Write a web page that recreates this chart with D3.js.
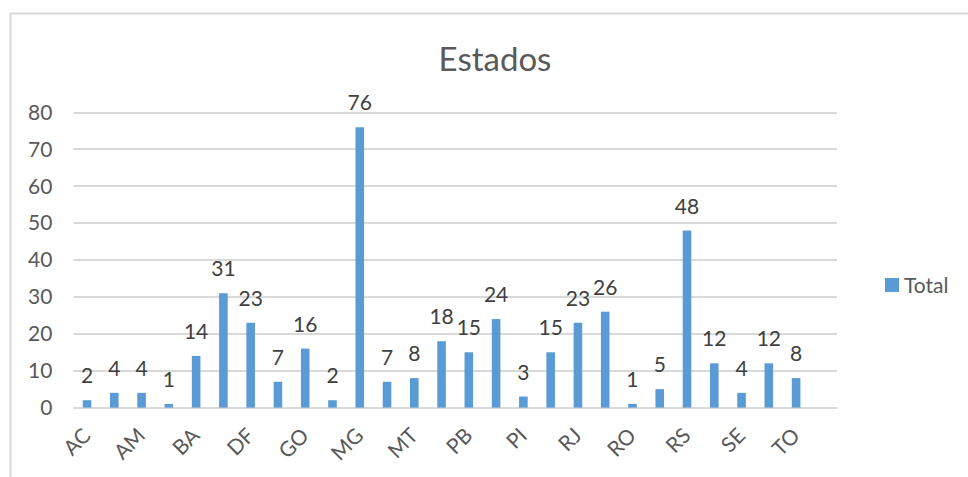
<!DOCTYPE html>
<html>
<head>
<meta charset="utf-8">
<script src="https://cdn.jsdelivr.net/npm/d3@7"></script>
<style>
  html, body { margin: 0; padding: 0; background: #fff; }
  svg { display: block; font-family: Lato, 'Open Sans', sans-serif; }
</style>
</head>
<body>
<div id="chart"></div>
<script>
// Estados — count per Brazilian state (last slot is an empty category)
const states = ['AC', 'AL', 'AM', 'AP', 'BA', 'CE', 'DF', 'ES', 'GO', 'MA', 'MG', 'MS', 'MT', 'PA',
  'PB', 'PE', 'PI', 'PR', 'RJ', 'RN', 'RO', 'RR', 'RS', 'SC', 'SE', 'SP', 'TO', ''];
const totals = [2, 4, 4, 1, 14, 31, 23, 7, 16, 2, 76, 7, 8, 18,
  15, 24, 3, 15, 23, 26, 1, 5, 48, 12, 4, 12, 8, null];
const yTicks = [0, 10, 20, 30, 40, 50, 60, 70, 80];
const shownLabels = states.filter((d, i) => i % 2 === 0 && d);

(function () {
  const W = 968, H = 477;
  const plot = { left: 73.4, right: 837, top: 112.5, bottom: 407.6 };
  const BAR = '#5B9BD5';
  const FS = '21px';

  const svg = d3.select('#chart').append('svg').attr('width', W).attr('height', H);

  // chart frame (only left and top edges are visible in the crop)
  svg.append('path').attr('d', `M10.5,${H} V13.5 H${W}`)
    .attr('fill', 'none').attr('stroke', '#d9d9d9').attr('stroke-width', 2);

  const x = d3.scaleBand().domain(states).range([plot.left, plot.right]);
  const y = d3.scaleLinear().domain([0, 80]).range([plot.bottom, plot.top]);
  const g = svg.append('g');

  // gridlines
  g.selectAll('.grid').data(yTicks).enter().append('line')
    .attr('x1', plot.left).attr('x2', plot.right)
    .attr('y1', d => Math.round(y(d))).attr('y2', d => Math.round(y(d)))
    .attr('stroke', '#d9d9d9').attr('stroke-width', 2);

  // y axis labels
  const yAxis = g.append('g').attr('transform', `translate(${plot.left - 21},0)`)
    .call(d3.axisLeft(y).tickValues(yTicks).tickSize(0).tickPadding(0));
  yAxis.select('.domain').remove();
  yAxis.selectAll('text').style('font-size', FS).style('fill', '#595959')
    .style('font-family', 'Lato, sans-serif');

  // bars
  const bw = 8.6;
  const data = states.map((s, i) => ({ s, v: totals[i] })).filter(d => d.v != null);
  g.selectAll('.bar').data(data).enter().append('rect')
    .attr('x', d => x(d.s) + x.bandwidth() / 2 - bw / 2)
    .attr('width', bw)
    .attr('y', d => y(d.v))
    .attr('height', d => y(0) - y(d.v))
    .attr('fill', BAR);

  // data labels
  g.selectAll('.lbl').data(data).enter().append('text')
    .attr('x', d => x(d.s) + x.bandwidth() / 2)
    .attr('y', d => y(d.v) - 17)
    .attr('text-anchor', 'middle')
    .style('font-size', FS).style('fill', '#404040')
    .text(d => d.v);

  // x axis labels, every other category, rotated
  g.selectAll('.xl').data(shownLabels).enter().append('text')
    .attr('transform', d => `translate(${x(d) + x.bandwidth() / 2 + 5},437) rotate(-45)`)
    .attr('text-anchor', 'end')
    .style('font-size', FS).style('fill', '#595959')
    .text(d => d);

  // title
  svg.append('text').attr('x', 495).attr('y', 71).attr('text-anchor', 'middle')
    .style('font-size', '33px').style('fill', '#595959').text('Estados');

  // legend
  const lg = svg.append('g').attr('transform', 'translate(885,278)');
  lg.append('rect').attr('width', 14).attr('height', 14).attr('fill', BAR);
  lg.append('text').attr('x', 19).attr('y', 14.5)
    .style('font-size', FS).style('fill', '#595959').text('Total');
})();
</script>
</body>
</html>
